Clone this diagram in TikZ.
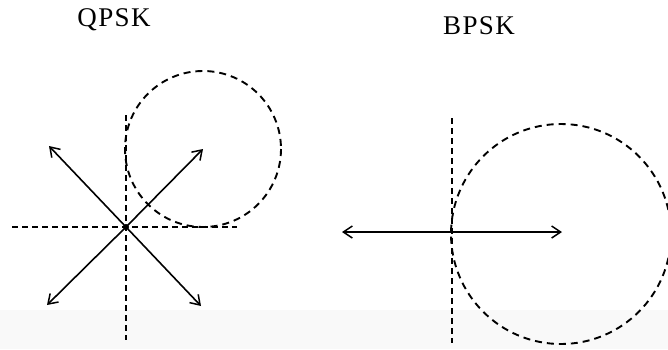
\documentclass[tikz,border=0pt]{standalone}
\usepackage{fontspec}
\newfontfamily\titlefont[LetterSpace=5]{Liberation Serif}
\usetikzlibrary{arrows.meta}

\tikzset{
  axisline/.style={dashed, dash pattern=on 6pt off 4pt, line width=1.2pt},
  ringline/.style={dashed, dash pattern=on 7pt off 5pt, line width=1.9pt},
  phasor/.style={line width=1.6pt, -{Straight Barb[length=9pt,width=12pt,line width=1.5pt]}},
  title/.style={font=\titlefont\fontsize{27}{29}\selectfont, inner sep=0pt}
}

\begin{document}
\begin{tikzpicture}[x=1pt, y=-1pt]

\useasboundingbox (0,0) rectangle (668,349);
\clip (0,0) rectangle (668,349);

% Paper shade
\fill[gray!5] (0,310) rectangle (668,349);

% Label
\node[title] (qpsk) at (114,20) {QPSK};
\node[title] (bpsk) at (479,26) {BPSK};

% QPSK axes
\coordinate (qo) at (126,227);
\coordinate (qw) at (12,227);
\coordinate (qe) at (237,227);
\coordinate (qn) at (126,115);
\coordinate (qs) at (126,340);
\draw[axisline] (qw) -- (qe);
\draw[axisline] (qn) -- (qs);

% QPSK circle
\coordinate (qc) at (203,149);
\draw[ringline] (qc) circle (78);

% QPSK phasors
\coordinate (q1) at (203,149);
\coordinate (q2) at (49,146);
\coordinate (q3) at (47,305);
\coordinate (q4) at (201,306);
\foreach \tip in {q1,q2,q3,q4}
  \draw[phasor] (qo) -- (\tip);
\fill (qo) circle (3);

% BPSK axis
\coordinate (bo) at (452,232);
\coordinate (bn) at (452,118);
\coordinate (bs) at (452,343);
\draw[axisline] (bn) -- (bs);

% BPSK circle
\coordinate (bc) at (561,234);
\draw[ringline] (bc) circle (110);

% BPSK phasor
\coordinate (b1) at (562,232);
\coordinate (b2) at (342,232);
\draw[phasor, {Straight Barb[length=9pt,width=12pt,line width=1.5pt]}-{Straight Barb[length=9pt,width=12pt,line width=1.5pt]}] (b2) -- (b1);

\end{tikzpicture}
\end{document}
